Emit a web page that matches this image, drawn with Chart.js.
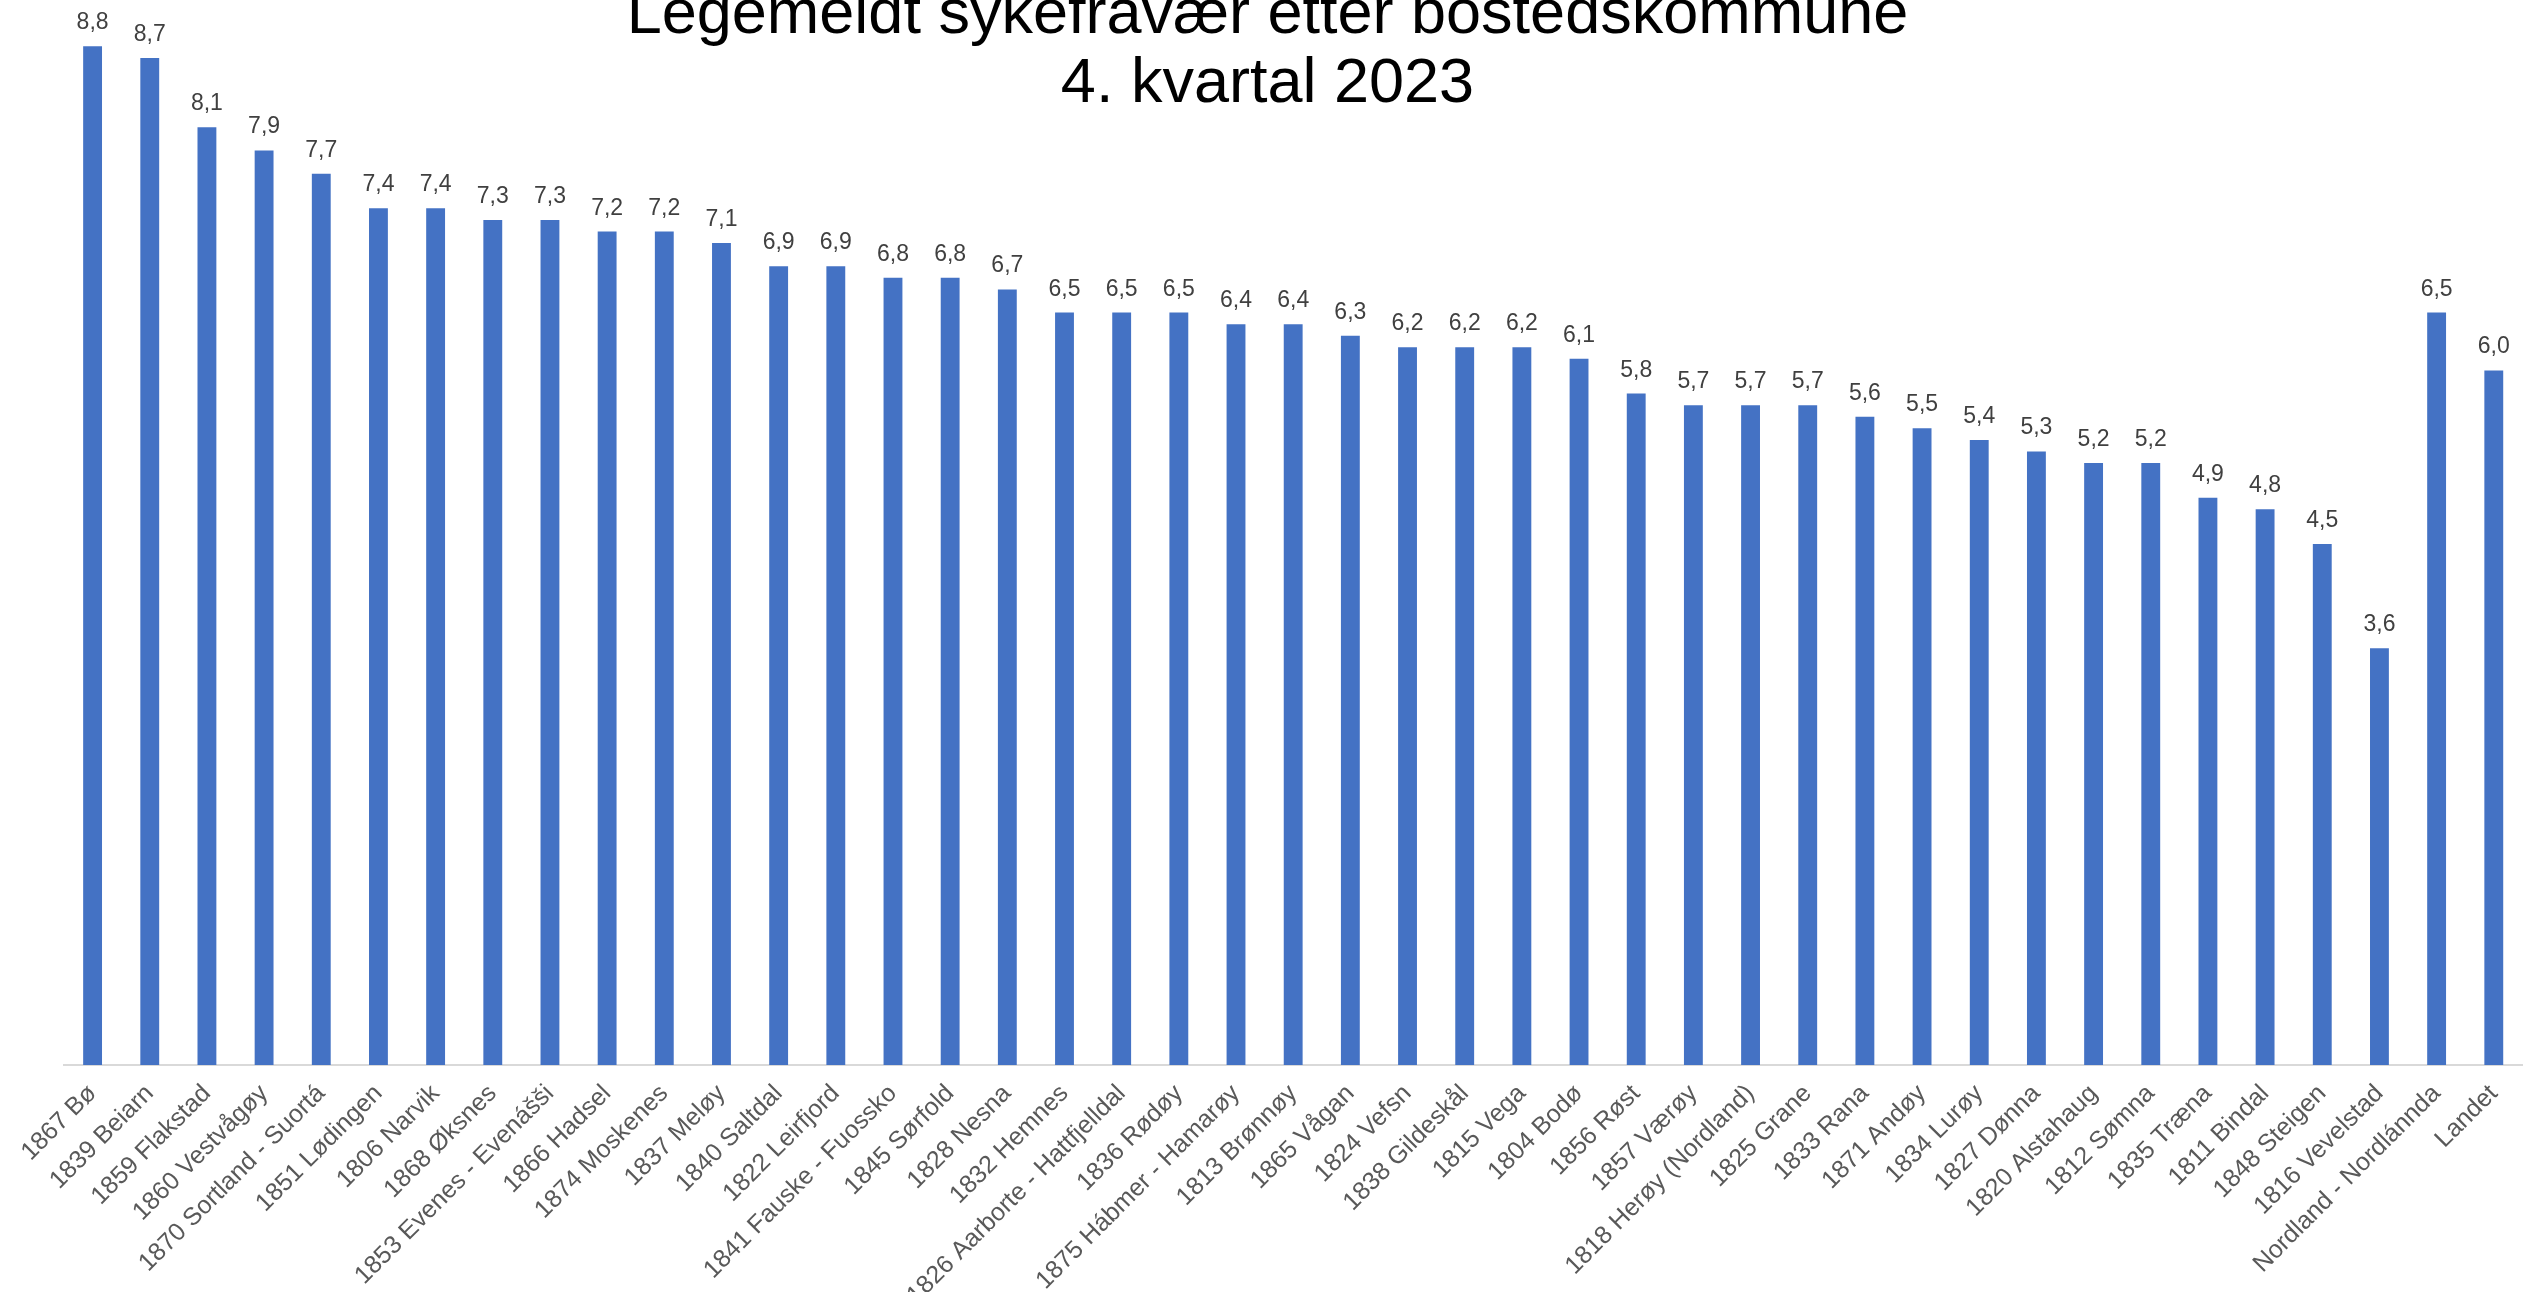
<!DOCTYPE html>
<html>
<head>
<meta charset="utf-8">
<script src="https://cdn.jsdelivr.net/npm/chart.js@4"></script>
<style>
  html, body { margin: 0; padding: 0; background: #fff; overflow: hidden; }
  #wrap { width: 2529px; height: 1292px; position: relative; }
</style>
</head>
<body>
<div id="wrap"><canvas id="sykefravaer"></canvas></div>
<script>
'use strict';

const kommuner = [
  "1867 Bø", "1839 Beiarn", "1859 Flakstad", "1860 Vestvågøy", "1870 Sortland - Suortá",
  "1851 Lødingen", "1806 Narvik", "1868 Øksnes", "1853 Evenes - Evenášši", "1866 Hadsel",
  "1874 Moskenes", "1837 Meløy", "1840 Saltdal", "1822 Leirfjord", "1841 Fauske - Fuossko",
  "1845 Sørfold", "1828 Nesna", "1832 Hemnes", "1826 Aarborte - Hattfjelldal", "1836 Rødøy",
  "1875 Hábmer - Hamarøy", "1813 Brønnøy", "1865 Vågan", "1824 Vefsn", "1838 Gildeskål",
  "1815 Vega", "1804 Bodø", "1856 Røst", "1857 Værøy", "1818 Herøy (Nordland)",
  "1825 Grane", "1833 Rana", "1871 Andøy", "1834 Lurøy", "1827 Dønna",
  "1820 Alstahaug", "1812 Sømna", "1835 Træna", "1811 Bindal", "1848 Steigen",
  "1816 Vevelstad", "Nordland - Nordlánnda", "Landet"
];

const prosent = [
  8.8, 8.7, 8.1, 7.9, 7.7,
  7.4, 7.4, 7.3, 7.3, 7.2,
  7.2, 7.1, 6.9, 6.9, 6.8,
  6.8, 6.7, 6.5, 6.5, 6.5,
  6.4, 6.4, 6.3, 6.2, 6.2,
  6.2, 6.1, 5.8, 5.7, 5.7,
  5.7, 5.6, 5.5, 5.4, 5.3,
  5.2, 5.2, 4.9, 4.8, 4.5,
  3.6, 6.5, 6.0
];

const tittel = ["Legemeldt sykefravær etter bostedskommune", "4. kvartal 2023"];

const skrift = '"Liberation Sans", Arial, sans-serif';

// verdiene over hver søyle, med komma som desimaltegn
const verdiEtiketter = {
  id: 'verdiEtiketter',
  afterDatasetsDraw(chart) {
    const ctx = chart.ctx;
    const meta = chart.getDatasetMeta(0);
    ctx.save();
    ctx.font = '23px ' + skrift;
    ctx.fillStyle = '#404040';
    ctx.textAlign = 'center';
    ctx.textBaseline = 'alphabetic';
    meta.data.forEach(function (bar, i) {
      ctx.fillText(prosent[i].toFixed(1).replace('.', ','), bar.x, bar.y - 17);
    });
    ctx.restore();
  }
};

// tittelen ligger over plottet og er kuttet i toppen
const tittelTegner = {
  id: 'tittelTegner',
  afterDraw(chart) {
    const ctx = chart.ctx;
    ctx.save();
    ctx.font = '63px ' + skrift;
    ctx.fillStyle = '#000000';
    ctx.textAlign = 'center';
    ctx.textBaseline = 'alphabetic';
    ctx.fillText(tittel[0], chart.width / 2 + 3, 33);
    ctx.fillText(tittel[1], chart.width / 2 + 3, 102);
    ctx.restore();
  }
};

let chart = new Chart(document.getElementById("sykefravaer"), {
  type: 'bar',
  data: {
    labels: kommuner,
    datasets: [{
      label: "Sykefravær",
      data: prosent,
      backgroundColor: "#4472C4",
      categoryPercentage: 1,
      barPercentage: 0.33,
    }],
  },
  options: {
    responsive: true,
    maintainAspectRatio: false,
    animation: false,
    layout: {
      padding: { left: 64, right: 0, top: 0, bottom: 0 }
    },
    plugins: {
      legend: { display: false },
      title: { display: false },
      tooltip: { enabled: false }
    },
    scales: {
      x: {
        grid: { display: false, drawTicks: false },
        border: { color: '#d9d9d9', width: 2 },
        ticks: {
          color: '#595959',
          font: { size: 25, family: skrift },
          minRotation: 45,
          maxRotation: 45,
          autoSkip: false,
          padding: 14
        },
        afterFit: function (scale) {
          scale.height = 227;
        }
      },
      y: {
        display: false,
        min: 0,
        max: 9.2
      }
    }
  },
  plugins: [verdiEtiketter, tittelTegner]
});
</script>
</body>
</html>
